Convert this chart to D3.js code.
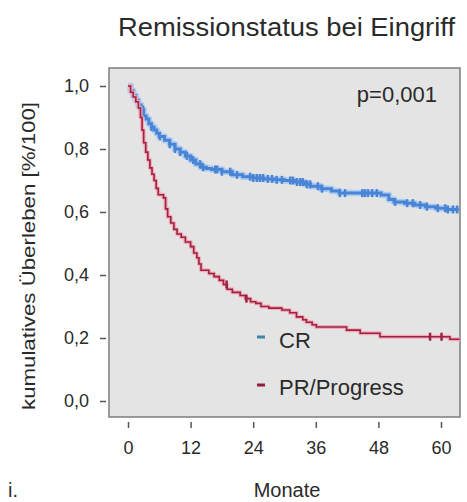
<!DOCTYPE html>
<html>
<head>
<meta charset="utf-8">
<script src="https://cdn.jsdelivr.net/npm/d3@7"></script>
<style>
body { margin: 0; background: #fff; }
text { font-family: "Liberation Sans", Arial, sans-serif; fill: #2a2a2a; }
</style>
</head>
<body>
<svg class="svg"></svg>
<script>
// Kaplan-Meier steps (month, survival)
let crTimes = [0, 0.5, 1, 1.5, 2, 2.5, 3, 3.5, 4, 4.5, 5, 5.5, 6, 7, 8, 9, 10, 11, 12, 13, 14, 15, 16, 18, 20, 22, 24, 26, 28, 30, 32, 34, 35, 37, 39, 40.5, 48.5, 50, 51, 53, 55, 57, 59, 61, 63.4]
let crSurv = [1, 0.985, 0.97, 0.955, 0.94, 0.925, 0.905, 0.895, 0.88, 0.87, 0.86, 0.85, 0.84, 0.828, 0.815, 0.8, 0.79, 0.778, 0.765, 0.752, 0.742, 0.738, 0.735, 0.728, 0.718, 0.712, 0.708, 0.705, 0.702, 0.7, 0.695, 0.688, 0.682, 0.674, 0.667, 0.66, 0.654, 0.64, 0.632, 0.628, 0.622, 0.617, 0.612, 0.608, 0.608]
let crCensored = [2.9, 4.5, 6.1, 8.0, 9.0, 10.0, 11.3, 12.5, 13.8, 14.4, 16.7, 17.1, 18.0, 19.6, 20.9, 23.4, 24.0, 24.7, 25.3, 25.9, 26.8, 27.6, 28.5, 29.5, 31.1, 31.6, 32.4, 33.0, 33.5, 34.3, 34.9, 36.4, 37.2, 40.6, 41.6, 44.9, 45.4, 46.0, 46.8, 47.7, 51.2, 53.5, 54.6, 56.0, 57.3, 59.4, 60.8, 61.3, 62.3, 63.1]

let prTimes = [0, 0.5, 1, 1.5, 2, 2.4, 2.7, 3, 3.4, 3.8, 4.2, 4.6, 5, 5.4, 5.8, 6.8, 7.2, 7.6, 8.2, 8.8, 9.4, 10.2, 11, 12, 12.6, 13.2, 13.6, 14, 15.5, 16.5, 17.5, 18.3, 19, 20, 21.5, 22.5, 23.5, 24.5, 25.5, 27, 29.5, 31, 32.3, 33.5, 34.2, 35.3, 36.1, 41.9, 44.5, 48.3, 61.7, 63.6]
let prSurv = [1, 0.98, 0.965, 0.95, 0.93, 0.9, 0.86, 0.82, 0.79, 0.765, 0.74, 0.72, 0.7, 0.675, 0.655, 0.645, 0.61, 0.585, 0.565, 0.545, 0.53, 0.52, 0.505, 0.49, 0.47, 0.455, 0.435, 0.415, 0.405, 0.395, 0.383, 0.37, 0.355, 0.345, 0.335, 0.325, 0.315, 0.31, 0.3, 0.295, 0.289, 0.28, 0.267, 0.258, 0.25, 0.242, 0.235, 0.225, 0.215, 0.204, 0.196, 0.196]
let prCensored = [18.9, 22.7, 57.9, 60.1]

let groups = ["CR", "PR/Progress"]
let xTicks = [0, 12, 24, 36, 48, 60]
let yTicks = [0, 0.2, 0.4, 0.6, 0.8, 1.0]

let svg = d3.select(".svg").attr("width", 467).attr("height", 502)

let x = d3.scaleLinear().domain([0, 60]).range([128, 441])
let y = d3.scaleLinear().domain([0, 1]).range([401, 86])

// plot frame
svg.append("rect")
    .attr("x", 109).attr("y", 68)
    .attr("width", 351).attr("height", 349)
    .attr("fill", "#e4e4e4")
    .attr("stroke", "#7d7d7d")
    .attr("stroke-width", 1.5)

let fmt = (d) => d3.format(".1f")(d).replace(".", ",")

let yAxis = svg.append("g")
    .attr("transform", "translate(106,0)")
    .call(d3.axisLeft(y).tickValues(yTicks).tickSize(6).tickPadding(11).tickFormat(fmt))
let xAxis = svg.append("g")
    .attr("transform", "translate(0,422)")
    .call(d3.axisBottom(x).tickValues(xTicks).tickSize(6).tickPadding(13).tickFormat(d3.format("d")))
;[yAxis, xAxis].forEach((a) => {
    a.select(".domain").remove()
    a.selectAll("line").attr("stroke", "#555").attr("stroke-width", 1.5)
    a.selectAll("text").style("font-size", "18px").attr("fill", "#2a2a2a")
        .style("font-family", "'Liberation Sans', Arial, sans-serif")
})

let stepLine = d3.line()
    .x((d) => x(d[0]))
    .y((d) => y(d[1]))
    .curve(d3.curveStepAfter)

let drawCurve = (times, surv, censored, halo, core, haloW, coreW) => {
    let pts = times.map((t, i) => [t, surv[i]])
    svg.append("path").datum(pts)
        .attr("d", stepLine).attr("fill", "none")
        .attr("stroke", halo).attr("stroke-width", haloW).attr("stroke-linejoin", "round")
    svg.append("path").datum(pts)
        .attr("d", stepLine).attr("fill", "none")
        .attr("stroke", core).attr("stroke-width", coreW)
    let at = (t) => {
        let i = d3.bisectRight(times, t) - 1
        return surv[Math.max(0, i)]
    }
    svg.append("g").selectAll("line")
        .data(censored)
        .enter()
        .append("line")
        .attr("x1", (d) => x(d)).attr("x2", (d) => x(d))
        .attr("y1", (d) => y(at(d)) - 4).attr("y2", (d) => y(at(d)) + 4)
        .attr("stroke", core).attr("stroke-width", 2.5)
}

drawCurve(crTimes, crSurv, crCensored, "#afcdf3", "#4a84d4", 6.5, 3)
drawCurve(prTimes, prSurv, prCensored, "#f3a9b8", "#9a2442", 4, 1.6)

// title and labels
svg.append("text")
    .attr("x", 118).attr("y", 36)
    .attr("textLength", 337).attr("lengthAdjust", "spacingAndGlyphs")
    .style("font-size", "25px")
    .text("Remissionstatus bei Eingriff")

svg.append("text")
    .attr("transform", "translate(35,256) rotate(-90)")
    .attr("text-anchor", "middle")
    .attr("textLength", 308).attr("lengthAdjust", "spacingAndGlyphs")
    .style("font-size", "19px")
    .text("kumulatives Überleben [%/100]")

svg.append("text")
    .attr("x", 287).attr("y", 497)
    .attr("text-anchor", "middle")
    .style("font-size", "20px")
    .text("Monate")

svg.append("text")
    .attr("x", 8).attr("y", 497)
    .style("font-size", "20px")
    .text("i.")

svg.append("text")
    .attr("x", 437).attr("y", 102)
    .attr("text-anchor", "end")
    .style("font-size", "22px")
    .text("p=0,001")

// legend
let legendColors = ["#3f84a8", "#8e1e38"]
let legend = svg.append("g")
legend.selectAll("rect")
    .data(groups)
    .enter()
    .append("rect")
    .attr("x", 257).attr("y", (d, i) => 335.5 + i * 48)
    .attr("width", 8).attr("height", 3)
    .attr("fill", (d, i) => legendColors[i])
legend.selectAll("text")
    .data(groups)
    .enter()
    .append("text")
    .attr("x", 279).attr("y", (d, i) => 348 + i * 47)
    .style("font-size", "22px")
    .text((d) => d)
</script>
</body>
</html>
